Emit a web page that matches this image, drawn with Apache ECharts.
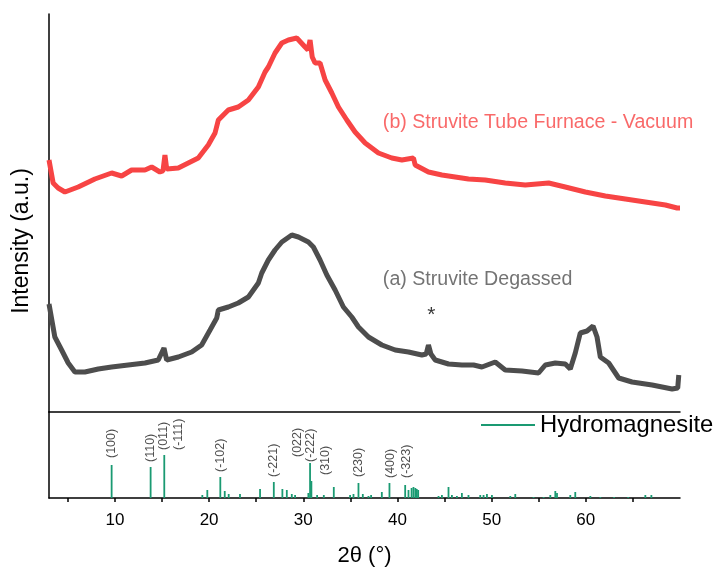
<!DOCTYPE html>
<html><head><meta charset="utf-8">
<script src="https://cdn.jsdelivr.net/npm/echarts@6/dist/echarts.min.js"></script>
<style>html,body{margin:0;padding:0;background:#fff}#c{width:718px;height:569px}</style>
</head><body><div id="c"></div>
<script>
// (b) Struvite Tube Furnace - Vacuum
const thetaB = [3.0,3.44,3.97,4.69,6.10,7.87,9.65,10.71,11.77,13.19,13.90,14.78,15.10,15.31,15.50,15.66,16.73,17.79,18.85,19.91,20.63,20.98,22.04,23.10,24.17,25.23,25.94,26.29,27.00,27.72,28.42,29.31,30.19,30.50,30.72,30.95,31.25,31.78,32.32,33.03,33.73,34.62,35.50,36.57,37.98,39.40,40.47,41.70,41.88,43.29,44.72,46.13,47.54,49.32,51.44,53.57,56.05,57.82,59.95,62.07,64.20,66.32,68.45,69.69,70.0];
const intensB = [252,229,224,220,225,233,239,236,242,242,245,240,241,257,243,243,244,249,254,267,279,292,302,305,312,325,340,345,359,369,372,374,365,362,372,355,349,349,332,319,305,292,280,269,259,254,252,254,247,240,237,235,233,232,229,227,229,225,220,216,213,210,207,204,204];
// (a) Struvite Degassed
const thetaA = [3.0,3.62,4.34,5.04,5.75,6.81,8.23,9.65,11.41,13.19,14.60,15.21,15.49,16.73,18.15,19.21,20.10,20.81,20.98,22.04,23.10,24.17,25.23,25.59,26.29,27.00,27.72,28.78,29.48,30.54,31.07,31.78,32.50,33.38,34.26,35.15,35.86,36.92,38.34,39.76,41.17,42.59,43.05,43.29,43.55,44.01,45.42,46.84,48.08,48.97,50.38,51.44,53.22,54.98,55.70,56.76,57.82,58.35,58.88,59.41,60.13,60.77,61.19,61.54,62.43,63.49,64.91,67.04,69.16,69.76,69.87];
const intensA = [108,75,62,49,40,40,43,45,47,49,52,64,52,55,60,67,82,94,102,105,109,115,129,139,152,162,170,177,175,170,165,152,137,122,105,95,85,75,67,62,60,57,58,67,58,52,48,47,47,45,50,42,41,39,47,49,48,43,59,79,81,86,75,55,49,34,30,27,23,24,37];
// Hydromagnesite reference pattern
const refTheta = [9.65,13.79,15.24,19.28,19.81,21.19,21.66,22.08,23.28,25.41,26.87,27.78,28.25,28.78,29.13,30.54,30.72,30.86,31.47,32.18,33.24,34.97,35.33,35.86,36.32,36.92,37.2,38.34,39.15,40.82,41.17,41.5,41.7,41.9,42.05,42.2,44.36,44.72,45.42,45.78,46.31,46.84,47.54,48.79,49.14,49.5,50.03,51.98,52.51,54.45,55.52,56.23,56.76,56.94,58.35,58.88,60.48,61.54,63.0,64.5,66.32,66.96];
const refInt = [33,31,43,3,8,21,7,4,4,9,16,9,8,4,3,5,35,17,3,3,11,3,4,15,4,2,3,6,15,13,8,10,11,10,9,8,2,3,11,3,2,5,3,3,3,4,3,2,4,1,1,3,7,5,3,6,2,1,1,1,3,3];
const hklText = ['(100)','(110)','(011)','(-111)','(-102)','(-221)','(022)','(-222)','(310)','(230)','(400)','(-323)'];
const hklTheta = [9.65,13.79,15.14,16.73,21.26,26.82,29.42,30.72,32.32,35.86,39.30,40.92];
const hklBase = [40,36,48,48,26,21,41,36,23,21,20,20];
const xTickValues = [5,10,15,20,25,30,35,40,45,50,55,60,65];
const xLabelValues = [10,20,30,40,50,60];
const notes = [
  {theta:38.45, y:289, text:'(b) Struvite Tube Furnace - Vacuum', color:'#f74444', size:19.6},
  {theta:38.45, y:132, text:'(a) Struvite Degassed', color:'#505050', size:19.6},
  {theta:43.15, y:97, text:'*', color:'#000000', size:21}
];

const FONT = 'Liberation Sans, Arial, sans-serif';
const RED = '#f74444', GREY = '#4d4d4d', GREEN = '#1a9a72';
const axisLine = {show:true, lineStyle:{color:'#000', width:1.5}};

const chart = echarts.init(document.getElementById('c'), null, {renderer:'canvas'});
chart.setOption({
  animation:false,
  backgroundColor:'#fff',
  textStyle:{fontFamily:FONT},
  grid:[
    {left:49, top:14, width:631, height:398},
    {left:49, top:412, width:631, height:86}
  ],
  xAxis:[
    {type:'value', gridIndex:0, min:3, max:70, axisLine:axisLine, axisTick:{show:false}, axisLabel:{show:false}, splitLine:{show:false}},
    {type:'value', gridIndex:1, min:3, max:70, axisLine:axisLine,
     axisTick:{show:true, customValues:xTickValues, length:4, lineStyle:{color:'#000', width:1.5}},
     axisLabel:{show:true, customValues:xLabelValues, fontSize:17, color:'#000', margin:14, fontFamily:FONT},
     splitLine:{show:false},
     name:'2θ (°)', nameLocation:'middle', nameGap:47, nameTextStyle:{fontSize:22, color:'#000', fontFamily:FONT}}
  ],
  yAxis:[
    {type:'value', gridIndex:0, min:0, max:398, axisLine:axisLine, axisTick:{show:false}, axisLabel:{show:false}, splitLine:{show:false}},
    {type:'value', gridIndex:1, min:0, max:86, axisLine:axisLine, axisTick:{show:false}, axisLabel:{show:false}, splitLine:{show:false}}
  ],
  legend:{
    data:[{name:'Hydromagnesite', icon:'rect'}],
    left:481, top:413, padding:0, itemWidth:54, itemHeight:2,
    textStyle:{fontSize:23.8, color:'#000', fontFamily:FONT}
  },
  graphic:[
    {type:'text', x:22, y:241, rotation:Math.PI/2,
     style:{text:'Intensity (a.u.)', fontSize:23, fontFamily:FONT, fill:'#000', textAlign:'center', textVerticalAlign:'middle'}}
  ],
  series:[
    {type:'line', xAxisIndex:0, yAxisIndex:0, showSymbol:false, data:thetaB.map((t,i)=>[t,intensB[i]]),
     lineStyle:{color:RED, width:5}, itemStyle:{color:RED}},
    {type:'line', xAxisIndex:0, yAxisIndex:0, showSymbol:false, data:thetaA.map((t,i)=>[t,intensA[i]]),
     lineStyle:{color:GREY, width:5}, itemStyle:{color:GREY}},
    {type:'scatter', xAxisIndex:0, yAxisIndex:0, symbolSize:1, itemStyle:{color:'rgba(0,0,0,0)'}, silent:true,
     data:notes.map(n=>({value:[n.theta,n.y], label:{show:true, formatter:n.text, color:n.color,
       fontSize:n.size, position:'inside', align:'left', verticalAlign:'middle', fontFamily:FONT}}))},
    {type:'custom', name:'Hydromagnesite', xAxisIndex:1, yAxisIndex:1, itemStyle:{color:GREEN},
     data:refTheta.map((t,i)=>[t,refInt[i]]), encode:{x:0,y:1},
     renderItem:function(params, api){
       const p0 = api.coord([api.value(0),0]);
       const p1 = api.coord([api.value(0),api.value(1)]);
       return {type:'rect', shape:{x:p0[0]-0.9, y:p1[1], width:1.8, height:p0[1]-p1[1]}, style:{fill:GREEN}};
     }},
    {type:'scatter', xAxisIndex:1, yAxisIndex:1, symbolSize:1, itemStyle:{color:'rgba(0,0,0,0)'}, silent:true,
     data:hklText.map((s,i)=>({value:[hklTheta[i],hklBase[i]], name:s})),
     label:{show:true, formatter:p=>p.name, rotate:90, position:'inside', align:'left', verticalAlign:'middle',
       fontSize:12.5, color:'#222', fontFamily:FONT}}
  ]
});
</script>
</body></html>
